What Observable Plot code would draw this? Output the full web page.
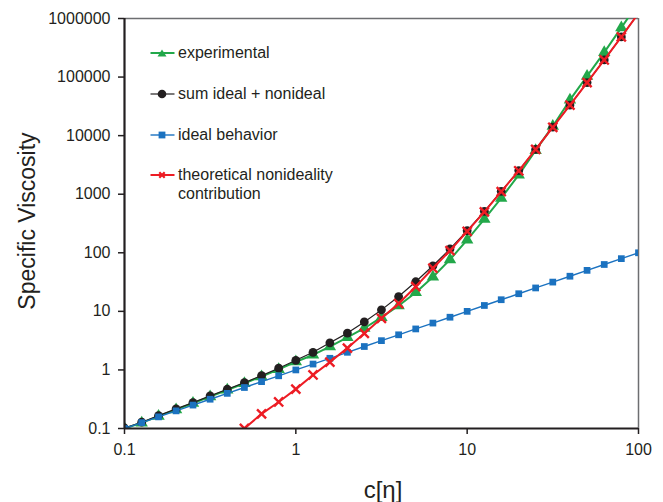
<!DOCTYPE html>
<html>
<head>
<meta charset="utf-8">
<script src="https://cdn.jsdelivr.net/npm/d3@7"></script>
<script src="https://cdn.jsdelivr.net/npm/@observablehq/plot@0.6"></script>
<style>
  html, body { margin: 0; padding: 0; background: #fff; }
  #wrap { position: relative; width: 663px; height: 502px; font-family: "Liberation Sans", Arial, sans-serif; color: #231f20; }
  .legend { position: absolute; left: 150px; top: 43px; font-size: 16px; }
  .item { position: absolute; left: 0; display: flex; align-items: flex-start; white-space: nowrap; line-height: 19px; }
  .item svg { flex: none; margin-top: 0px; }
  .item span { margin-left: 3px; }
  .ytitle { position: absolute; left: 27px; top: 221px; font-size: 23px; transform: translate(-50%, -50%) rotate(-90deg); white-space: nowrap; }
  .xtitle { position: absolute; left: 383px; top: 476px; font-size: 24px; transform: translateX(-50%); white-space: nowrap; }
</style>
</head>
<body>
<div id="wrap"></div>
<script>
// concentration c[η]
const conc = [0.1, 0.126, 0.158, 0.2, 0.251, 0.316, 0.398, 0.501, 0.631, 0.794, 1, 1.26, 1.58, 2, 2.51, 3.16, 3.98, 5.01, 6.31, 7.94, 10, 12.6, 15.8, 20, 25.1, 31.6, 39.8, 50.1, 63.1, 79.4, 100];
// series values (specific viscosity)
const experimental = [0.1, 0.125, 0.163, 0.21, 0.27, 0.35, 0.455, 0.59, 0.77, 1.02, 1.38, 1.8, 2.5, 3.6, 5.15, 7.9, 12.5, 21, 38.7, 76.5, 166, 375, 855, 2140, 5600, 14500, 40700, 104000, 264000, 700000, 1850000];
const sumIdealNonideal = [0.102, 0.128, 0.166, 0.216, 0.277, 0.36, 0.468, 0.607, 0.8, 1.07, 1.46, 2.0, 2.9, 4.25, 6.6, 10.6, 17.9, 32, 60, 116, 238, 510, 1120, 2530, 5850, 13930, 33240, 80450, 196060, 485080, 1230100];
const idealBehavior = [0.1, 0.126, 0.158, 0.2, 0.251, 0.316, 0.398, 0.501, 0.631, 0.794, 1, 1.26, 1.58, 2, 2.51, 3.16, 3.98, 5.01, 6.31, 7.94, 10, 12.6, 15.8, 20, 25.1, 31.6, 39.8, 50.1, 63.1, 79.4, 100];
const nonideality = [0.0027, 0.0045, 0.0077, 0.013, 0.022, 0.037, 0.06, 0.1, 0.178, 0.284, 0.47, 0.82, 1.36, 2.36, 4.2, 7.6, 13.6, 26.4, 54.5, 109, 232, 499, 1107, 2510, 5820, 13900, 33200, 80400, 196000, 485000, 1230000];
// tick labels
const xTicks = [0.1, 1, 10, 100];
const yTicks = [0.1, 1, 10, 100, 1000, 10000, 100000, 1000000];
// legend labels
const seriesNames = ["experimental", "sum ideal + nonideal", "ideal behavior", "theoretical nonideality contribution"];

const colors = {green: "#22a84a", black: "#231f20", blue: "#1b72c0", red: "#ed1c24"};

const toRows = vals => conc.map((c, i) => ({c, v: vals[i]}));
const gRows = toRows(experimental);
const kRows = toRows(sumIdealNonideal);
const bRows = toRows(idealBehavior);
const rRows = toRows(nonideality);

const chart = Plot.plot({
  width: 663,
  height: 502,
  marginLeft: 124,
  marginRight: 25,
  marginTop: 18,
  marginBottom: 74,
  style: {fontFamily: "Liberation Sans, Arial, sans-serif", fontSize: "16px", color: "#231f20", background: "#fff", overflow: "visible"},
  x: {type: "log", domain: [0.1, 100]},
  y: {type: "log", domain: [0.1, 1000000]},
  marks: [
    Plot.ruleY([1000000], {stroke: "#6d6e71", strokeWidth: 1.5}),
    Plot.ruleX([100], {stroke: "#6d6e71", strokeWidth: 1.5}),
    // green experimental
    Plot.line(gRows, {x: "c", y: "v", stroke: colors.green, strokeWidth: 2, clip: true}),
    Plot.dot(gRows, {x: "c", y: "v", symbol: "triangle", r: 4.6, fill: colors.green, stroke: "none", clip: true}),
    // black sum
    Plot.line(kRows, {x: "c", y: "v", stroke: colors.black, strokeWidth: 1.2, clip: true}),
    Plot.dot(kRows, {x: "c", y: "v", symbol: "circle", r: 4.4, fill: colors.black, stroke: "none", clip: true}),
    // blue ideal
    Plot.line(bRows, {x: "c", y: "v", stroke: colors.blue, strokeWidth: 1.4, clip: true}),
    Plot.dot(bRows, {x: "c", y: "v", symbol: "square", r: 3.8, fill: colors.blue, stroke: "none", clip: true}),
    // red nonideality
    Plot.line(rRows, {x: "c", y: "v", stroke: colors.red, strokeWidth: 2, clip: true}),
    Plot.dot(rRows, {x: "c", y: "v", symbol: "times", r: 4.2, stroke: colors.red, strokeWidth: 2.4, fill: "none", clip: true}),
    // axes
    Plot.axisY({ticks: yTicks, tickFormat: d => String(d), tickSize: 6, tickPadding: 8, fontSize: 16, label: null, strokeWidth: 1.5}),
    Plot.axisX({ticks: xTicks, tickFormat: d => String(d), tickSize: 6, tickPadding: 9, fontSize: 16, label: null, strokeWidth: 1.5}),
    Plot.ruleX([0.1], {stroke: "#231f20", strokeWidth: 2.2}),
    Plot.ruleY([0.1], {stroke: "#231f20", strokeWidth: 2.2})
  ]
});

const wrap = document.getElementById("wrap");
wrap.appendChild(chart);

// titles
const yt = document.createElement("div");
yt.className = "ytitle";
yt.textContent = "Specific Viscosity";
wrap.appendChild(yt);
const xt = document.createElement("div");
xt.className = "xtitle";
xt.textContent = "c[η]";
wrap.appendChild(xt);

// legend
const swatches = [
  {color: colors.green, sym: `<path d="M12,6.5 L16.5,13.5 L7.5,13.5 Z" fill="${colors.green}"/>`, lw: 2},
  {color: colors.black, sym: `<circle cx="12" cy="10" r="4.3" fill="${colors.black}"/>`, lw: 1.2},
  {color: colors.blue, sym: `<rect x="8.6" y="6.6" width="6.8" height="6.8" fill="${colors.blue}"/>`, lw: 1.4},
  {color: colors.red, sym: `<path d="M9.3,7.3 L14.7,12.7 M14.7,7.3 L9.3,12.7" stroke="${colors.red}" stroke-width="2.2"/>`, lw: 2}
];
const legendTops = [0, 41, 82, 122];
const legend = document.createElement("div");
legend.className = "legend";
seriesNames.forEach((name, i) => {
  const it = document.createElement("div");
  it.className = "item";
  it.style.top = legendTops[i] + "px";
  const sw = swatches[i];
  const label = name === "theoretical nonideality contribution" ? "theoretical nonideality<br>contribution" : name;
  it.innerHTML = `<svg width="25" height="20" viewBox="0 0 25 20"><line x1="0.5" y1="10" x2="24.5" y2="10" stroke="${sw.color}" stroke-width="${sw.lw}"/>${sw.sym}</svg><span>${label}</span>`;
  legend.appendChild(it);
});
wrap.appendChild(legend);
</script>
</body>
</html>
